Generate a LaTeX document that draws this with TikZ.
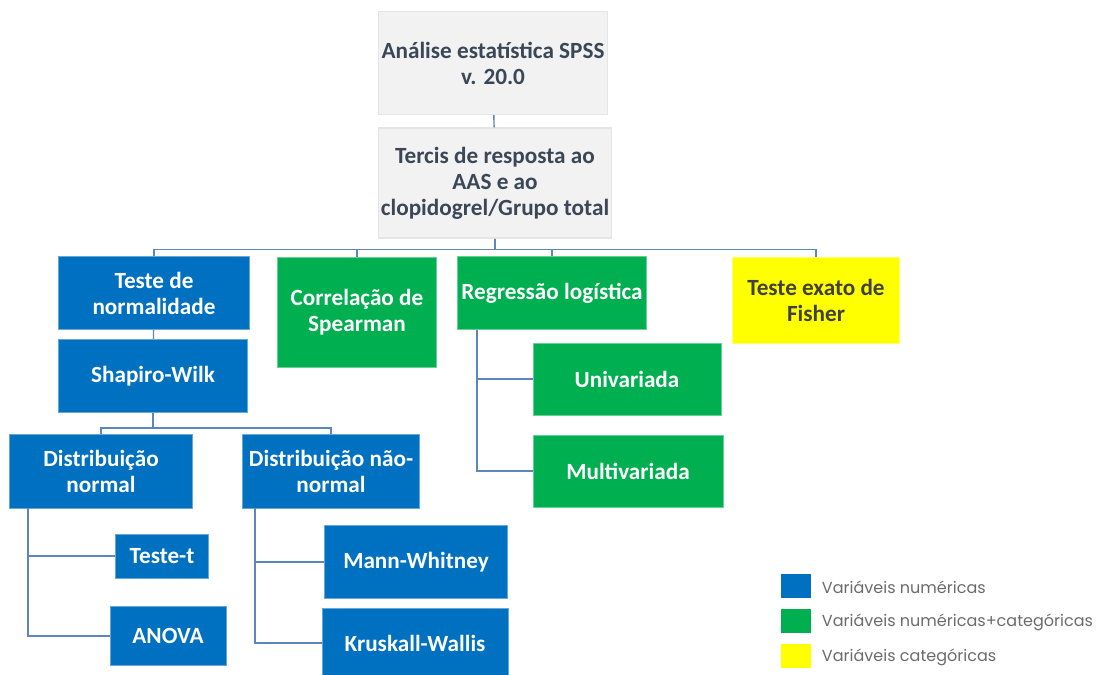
\documentclass[tikz,border=0pt]{standalone}
\usepackage{fontspec}
\setmainfont{Carlito}
\newfontfamily\legendfont{Poppins}
\usetikzlibrary{positioning}

\definecolor{numblue}{HTML}{0070C0}
\definecolor{mixgreen}{HTML}{00B050}
\definecolor{catyellow}{HTML}{FFFF00}
\definecolor{headgray}{HTML}{F2F2F2}
\definecolor{headtext}{HTML}{3B4656}
\definecolor{linkblue}{HTML}{5B86BE}
\definecolor{legendtext}{HTML}{6B6B6B}

\begin{document}
\begin{tikzpicture}[
    x=0.025cm, y=-0.025cm,
    font=\fontsize{16.5}{18.5}\selectfont\bfseries,
    head/.style={rectangle, draw=gray!20, line width=0.8pt, fill=headgray, text=headtext, align=center, inner sep=2pt},
    numbox/.style={rectangle, draw=numblue!60!white, line width=0.6pt, fill=numblue, text=white, align=center, inner sep=2pt},
    mixbox/.style={rectangle, draw=mixgreen!60!white, line width=0.6pt, fill=mixgreen, text=white, align=center, inner sep=2pt},
    catbox/.style={rectangle, draw=catyellow!60!white, line width=0.6pt, fill=catyellow, text=black!75, align=center, inner sep=2pt},
    swatch/.style={rectangle, minimum width=0.75cm, minimum height=0.58cm, inner sep=0pt},
    legend/.style={anchor=west, font=\legendfont\fontsize{11.4}{13}\selectfont, text=legendtext},
    conn/.style={draw=linkblue, line width=1pt}
]
\useasboundingbox (0,0) rectangle (1099,675);

% --- Nodes ---
% Top of the tree
\node (spss) at (493, 63) [head, minimum width=5.68cm, minimum height=2.58cm] {Análise estatística SPSS\\ v. 20.0};
\node (tercis) at (495, 183) [head, minimum width=5.8cm, minimum height=2.75cm] {Tercis de resposta ao\\ AAS e ao\\ clopidogrel/Grupo total};

% First level
\node (normal) at (154, 293) [numbox, minimum width=4.78cm, minimum height=1.83cm] {Teste de\\ normalidade};
\node (spear) at (357, 312) [mixbox, minimum width=3.98cm, minimum height=2.75cm] {Correlação de\\ Spearman};
\node (logreg) at (552, 293) [mixbox, minimum width=4.73cm, minimum height=1.83cm] {Regressão logística};
\node (fisher) at (816, 300) [catbox, minimum width=4.18cm, minimum height=2.15cm] {Teste exato de\\ Fisher};

% Normality branch
\node (shapiro) at (153, 376) [numbox, minimum width=4.73cm, minimum height=1.83cm] {Shapiro-Wilk};
\node (dnorm) at (101, 471) [numbox, minimum width=4.58cm, minimum height=1.85cm] {Distribuição\\ normal};
\node (dnao) at (331, 471) [numbox, minimum width=4.43cm, minimum height=1.85cm] {Distribuição não-\\ normal};
\node (ttest) at (162, 556) [numbox, minimum width=2.33cm, minimum height=1.1cm] {Teste-t};
\node (anova) at (168, 636) [numbox, minimum width=2.9cm, minimum height=1.48cm] {ANOVA};
\node (mann) at (416, 562) [numbox, minimum width=4.58cm, minimum height=1.83cm] {Mann-Whitney};
\node (kruskal) at (415, 643) [numbox, minimum width=4.65cm, minimum height=1.75cm] {Kruskall-Wallis};

% Logistic regression branch
\node (univ) at (627, 379) [mixbox, minimum width=4.7cm, minimum height=1.8cm] {Univariada};
\node (multi) at (628, 471) [mixbox, minimum width=4.75cm, minimum height=1.8cm] {Multivariada};

% Stems for the side branches
\coordinate (dnormstem) at (28, 508);
\coordinate (dnaostem) at (255, 508);
\coordinate (logstem) at (477, 330);

% --- Edges ---
\draw [conn] (spss) -- (tercis);
\draw [conn] (tercis.south) -- ++(0, 11) -| (normal.north);
\draw [conn] (tercis.south) -- ++(0, 11) -| (spear.north);
\draw [conn] (tercis.south) -- ++(0, 11) -| (logreg.north);
\draw [conn] (tercis.south) -- ++(0, 11) -| (fisher.north);

\draw [conn] (normal) -- (shapiro);
\draw [conn] (shapiro.south) -- ++(0, 15) -| (dnorm.north);
\draw [conn] (shapiro.south) -- ++(0, 15) -| (dnao.north);

\draw [conn] (dnormstem) |- (ttest.west);
\draw [conn] (dnormstem) |- (anova.west);
\draw [conn] (dnaostem) |- (mann.west);
\draw [conn] (dnaostem) |- (kruskal.west);
\draw [conn] (logstem) |- (univ.west);
\draw [conn] (logstem) |- (multi.west);

% --- Legend ---
\node (keynum) at (796, 586) [swatch, fill=numblue] {};
\node (keymix) at (796, 621) [swatch, fill=mixgreen] {};
\node (keycat) at (796, 656) [swatch, fill=catyellow] {};
\node [legend] at (817, 587) {Variáveis numéricas};
\node [legend] at (817, 622) {Variáveis numéricas+categóricas};
\node [legend] at (817, 657) {Variáveis categóricas};

\end{tikzpicture}
\end{document}
